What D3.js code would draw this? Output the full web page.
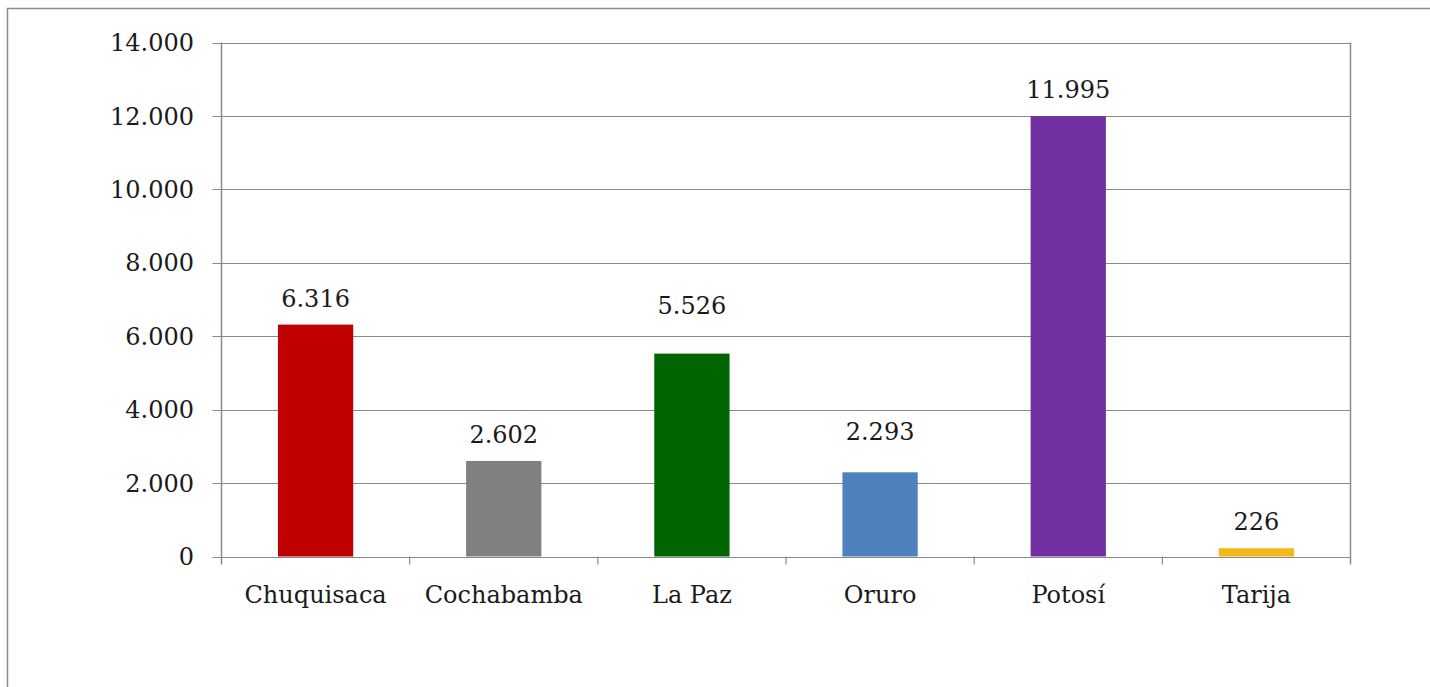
<!DOCTYPE html>
<html><head><meta charset="utf-8">
<script src="https://cdn.jsdelivr.net/npm/d3@7"></script>
<style>html,body{margin:0;padding:0;background:#fff;}svg{display:block;}</style>
</head><body><svg id="c" width="1430" height="687"></svg>
<script>
const categories = ["Chuquisaca","Cochabamba","La Paz","Oruro","Potosí","Tarija"];
const values = [6316, 2602, 5526, 2293, 11995, 226];
const colors = ["#C00000","#808080","#006400","#4F81BD","#7030A0","#F4B81C"];
const yTicks = [0,2000,4000,6000,8000,10000,12000,14000];

const svg = d3.select("#c");
const font = "DejaVu Serif";
const fmt = d3.formatLocale({decimal:",",thousands:".",grouping:[3],currency:["",""]}).format(",d");

// label lift above bar top (labels were moved by hand in the original)
const labelLift = {"La Paz":40, "Oruro":32};

// outer frame
svg.append("rect").attr("x",7.5).attr("y",8.5).attr("width",1440).attr("height",700)
  .attr("fill","none").attr("stroke","#8c8c8c").attr("stroke-width",1.5);

const L=221.5, R=1350.5, T=42.5, B=556.5;
const x = d3.scaleBand().domain(categories).range([L,R]).paddingInner(0.6).paddingOuter(0.3);
const y = d3.scaleLinear().domain([0,14000]).range([B,T]);

// gridlines + y ticks
const g = svg.append("g");
g.selectAll("line.grid").data(yTicks).join("line")
  .attr("x1",L-9).attr("x2",R).attr("y1",d=>Math.round(y(d))+0.5).attr("y2",d=>Math.round(y(d))+0.5)
  .attr("stroke","#8a8a8a").attr("stroke-width",1.2);
g.selectAll("text.yl").data(yTicks).join("text")
  .attr("x",194).attr("y",d=>y(d)).attr("dy","0.36em").attr("text-anchor","end")
  .attr("font-family",font).attr("font-size",24).attr("fill","#1a1a1a").text(d=>fmt(d));

// axes lines
svg.append("line").attr("x1",L).attr("x2",L).attr("y1",T).attr("y2",B+8).attr("stroke","#8a8a8a").attr("stroke-width",1.5);
svg.append("line").attr("x1",R).attr("x2",R).attr("y1",T).attr("y2",B+8).attr("stroke","#8a8a8a").attr("stroke-width",1.5);
const step = x.step();
const bounds = d3.range(categories.length+1).map(i=>x(categories[0]) - x.paddingOuter()*step + i*step);
svg.selectAll("line.ct").data(bounds.slice(1,-1)).join("line")
  .attr("x1",d=>d).attr("x2",d=>d).attr("y1",B).attr("y2",B+8).attr("stroke","#8a8a8a").attr("stroke-width",1.2);

// bars
svg.selectAll("rect.bar").data(categories).join("rect")
  .attr("x",d=>x(d)).attr("width",x.bandwidth())
  .attr("y",(d,i)=>y(values[i])).attr("height",(d,i)=>B-y(values[i]))
  .attr("fill",(d,i)=>colors[i]);

// value labels
svg.selectAll("text.vl").data(categories).join("text")
  .attr("x",d=>x(d)+x.bandwidth()/2).attr("y",(d,i)=>y(values[i])-(labelLift[d]||18))
  .attr("text-anchor","middle").attr("font-family",font).attr("font-size",24).attr("fill","#1a1a1a")
  .text((d,i)=>fmt(values[i]));

// category labels
svg.selectAll("text.cl").data(categories).join("text")
  .attr("x",d=>x(d)+x.bandwidth()/2).attr("y",603)
  .attr("text-anchor","middle").attr("font-family",font).attr("font-size",24).attr("fill","#1a1a1a")
  .text(d=>d);
</script></body></html>
